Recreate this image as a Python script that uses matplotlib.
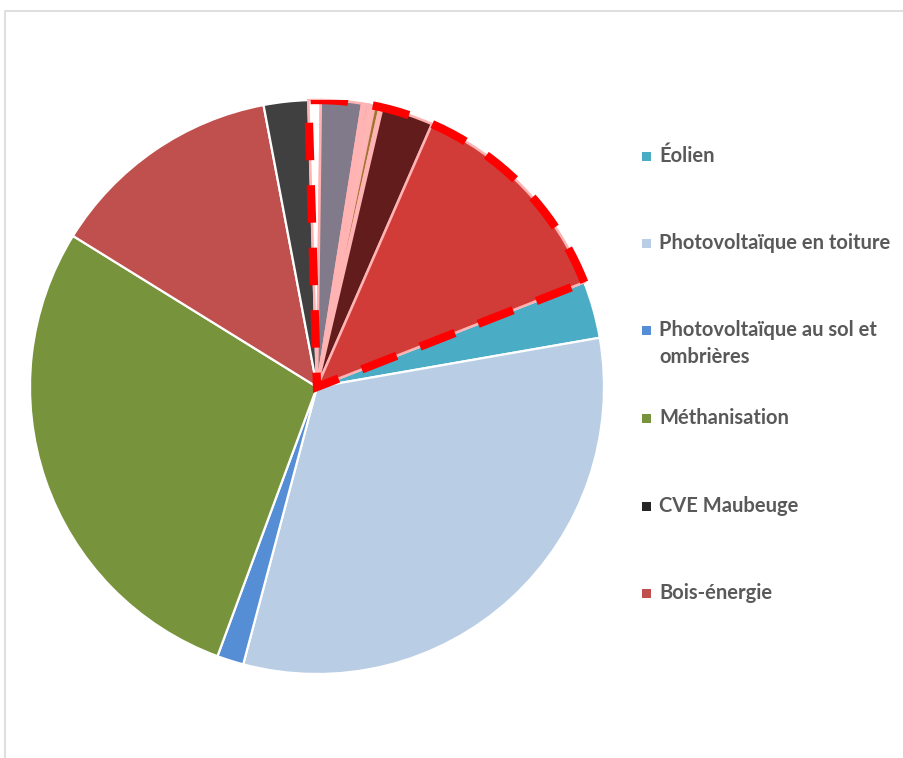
import matplotlib
matplotlib.use("Agg")
import matplotlib.pyplot as plt
from matplotlib.patches import Wedge, Rectangle
from matplotlib.lines import Line2D
import numpy as np

# slices, clockwise from the first one (Éolien)
SLICES = ["Éolien", "Photovoltaïque en toiture", "Photovoltaïque au sol et ombrières",
          "Méthanisation", "Bois-énergie", "CVE Maubeuge",
          "autre 1", "autre 2", "autre 3", "autre 4", "autre 5", "autre 6", "autre 7",
          "autre 8", "autre 9"]
VALUES = [3.2, 31.9, 1.5, 28.2, 13.2, 2.5,
          0.7, 2.3, 0.2, 0.15, 0.35, 0.3, 0.15, 2.9, 12.5]
COLORS = ["#4BACC6", "#B9CDE5", "#558ED5", "#77933C", "#C0504D", "#404040",
          "#FFFFFF", "#807A8A", "#FFB6B6", "#8064A2", "#FFB6B6", "#A07432", "#FFB6B6",
          "#631C1C", "#D13B38"]
N_MAIN = 6  # slices with white borders, the rest is the highlighted group

LEGEND_LABELS = ["Éolien", "Photovoltaïque en toiture", "Photovoltaïque au sol et\nombrières",
                 "Méthanisation", "CVE Maubeuge", "Bois-énergie"]
LEGEND_COLORS = ["#4BACC6", "#B9CDE5", "#558ED5", "#77933C", "#262626", "#C0504D"]

START = 21.4  # first slice angle (Excel-like, 68.6° from top)

W, H = 904, 758
fig = plt.figure(figsize=(W / 100, H / 100), dpi=100)
cx, cy, r = 317, 387, 287
ax = fig.add_axes([(cx - r) / W, (H - cy - r) / H, 2 * r / W, 2 * r / H])

wedges, _ = ax.pie(VALUES, colors=COLORS, startangle=START, counterclock=False,
                   wedgeprops=dict(linewidth=1.6, edgecolor="white"))
for w in wedges[N_MAIN:]:
    w.set_edgecolor("#FFB3B3")
    w.set_linewidth(1.8)
ax.set_xlim(-1, 1)
ax.set_ylim(-1, 1)
ax.set_aspect("equal")

# dashed outline around the group of small slices + the red one
frac = np.cumsum([0] + VALUES) / sum(VALUES)
a_start = (START - 360 * frac[N_MAIN]) % 360
outline = Wedge((0, 0), 1.0, START, a_start, fill=False, edgecolor="#FF0000",
                linewidth=6, linestyle=(0, (4.5, 3)), capstyle="butt",
                joinstyle="miter", zorder=5)
ax.add_patch(outline)

# legend drawn by hand
tx = 659 / W
ys = [156, 243, 330, 418, 506, 593]
for lab, col, y in zip(LEGEND_LABELS, LEGEND_COLORS, ys):
    fig.patches.append(Rectangle((641.5 / W, (H - y - 4.5) / H), 9 / W, 9 / H,
                                 transform=fig.transFigure, facecolor=col, edgecolor="none"))
    for k, ln in enumerate(lab.split("\n")):
        fig.text(tx, (H - y - 27 * k) / H, ln, ha="left", va="center", fontsize=14.5,
                 fontweight="bold", color="#595959", family=["Lato", "DejaVu Sans"])

# chart frame (only top and left visible)
fig.add_artist(Line2D([5.5 / W, 5.5 / W, 1], [0, (H - 10.5) / H, (H - 10.5) / H],
                      transform=fig.transFigure, color="#D9D9D9", linewidth=1.2))

fig.savefig("out.png", dpi=100)
